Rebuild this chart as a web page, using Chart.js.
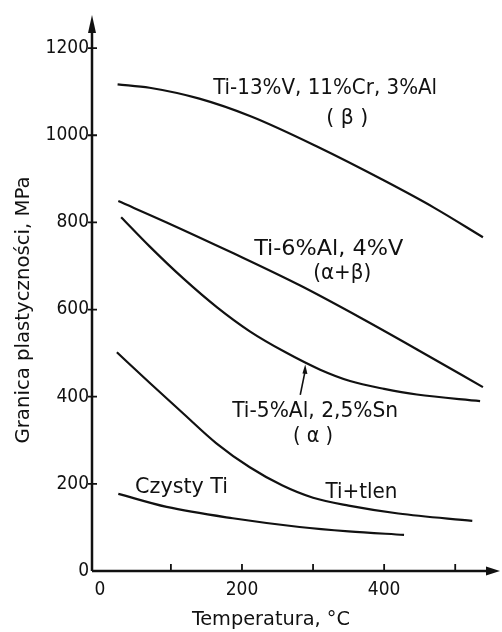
<!DOCTYPE html>
<html>
<head>
<meta charset="utf-8">
<script src="https://cdn.jsdelivr.net/npm/chart.js@4.4.1/dist/chart.umd.min.js"></script>
<style>
  html, body { margin: 0; padding: 0; background: #fff; }
  #wrap { width: 502px; height: 632px; }
</style>
</head>
<body>
<div id="wrap"><canvas id="graphic" width="502" height="632"></canvas></div>
<script>
// values: temperature (°C) / yield strength (MPa)
const betaTemp = [25, 70, 140, 213, 307, 400, 470, 539];
const betaMPa = [1117, 1109, 1084, 1043, 973, 896, 834, 766];

const alphaBetaTemp = [26, 94, 188, 282, 368, 450, 539];
const alphaBetaMPa = [849, 800, 729, 655, 580, 505, 422];

const alphaTemp = [30, 70, 117, 165, 211, 260, 310, 352, 400, 446, 535];
const alphaMPa = [812, 745, 672, 605, 550, 503, 462, 436, 418, 405, 390];

const oxygenTemp = [24, 70, 117, 164, 211, 257, 300, 350, 420, 524];
const oxygenMPa = [502, 432, 362, 293, 238, 196, 168, 150, 132, 115];

const pureTemp = [26, 94, 187, 281, 350, 428];
const pureMPa = [177, 147, 121, 101, 91, 83];

const xTickValues = [0, 100, 200, 300, 400, 500];
const xTickLabels = ['0', '', '200', '', '400', ''];
const yTickValues = [0, 200, 400, 600, 800, 1000, 1200];

const FONT = '"DejaVu Sans Condensed", "Liberation Sans Narrow", "DejaVu Sans", sans-serif';
const INK = '#111';

function toPoints(xs, ys) {
  return xs.map((x, i) => ({ x: x, y: ys[i] }));
}

function curve(xs, ys) {
  return {
    data: toPoints(xs, ys),
    borderColor: INK,
    borderWidth: 2.2,
    pointRadius: 0,
    fill: false,
    cubicInterpolationMode: 'monotone',
  };
}

// annotation texts, positioned in data units (x °C, baseline y MPa, width px)
const notes = [
  { text: 'Ti-13%V, 11%Cr, 3%Al', x: 317, y: 1095, w: 224 },
  { text: '( \u03B2 )', x: 348, y: 1026, w: 42 },
  { text: 'Ti-6%Al, 4%V', x: 322, y: 725, w: 149 },
  { text: '(\u03B1+\u03B2)', x: 341, y: 670, w: 58 },
  { text: 'Ti-5%Al, 2,5%Sn', x: 303, y: 354, w: 166 },
  { text: '( \u03B1 )', x: 300, y: 296, w: 40 },
  { text: 'Ti+tlen', x: 368, y: 167, w: 72 },
  { text: 'Czysty Ti', x: 115, y: 179, w: 93 },
];

function fitText(ctx, str, cx, baseY, width, size) {
  ctx.font = size + 'px ' + FONT;
  const m = ctx.measureText(str).width;
  ctx.save();
  ctx.translate(cx, baseY);
  ctx.scale(width / m, 1);
  ctx.textAlign = 'center';
  ctx.textBaseline = 'alphabetic';
  ctx.fillText(str, 0, 0);
  ctx.restore();
}

const drawing = {
  id: 'drawing',
  afterDraw(chart) {
    const ctx = chart.ctx;
    const xs = chart.scales.x;
    const ys = chart.scales.y;
    const left = chart.chartArea.left;
    const bottom = chart.chartArea.bottom;
    const top = chart.chartArea.top;
    const right = chart.chartArea.right;

    ctx.save();
    ctx.strokeStyle = INK;
    ctx.fillStyle = INK;
    ctx.lineWidth = 2.5;

    // axes
    ctx.beginPath();
    ctx.moveTo(left, bottom);
    ctx.lineTo(left, top + 14);
    ctx.moveTo(left, bottom);
    ctx.lineTo(right - 10, bottom);
    ctx.stroke();

    // arrow heads
    ctx.beginPath();
    ctx.moveTo(left, top);
    ctx.lineTo(left - 4, top + 18);
    ctx.lineTo(left + 4, top + 18);
    ctx.closePath();
    ctx.fill();
    ctx.beginPath();
    ctx.moveTo(right, bottom);
    ctx.lineTo(right - 14, bottom - 4.5);
    ctx.lineTo(right - 14, bottom + 4.5);
    ctx.closePath();
    ctx.fill();

    // tick marks
    ctx.lineWidth = 1.8;
    ctx.beginPath();
    yTickValues.slice(1).forEach(v => {
      const p = ys.getPixelForValue(v);
      ctx.moveTo(left - 4, p);
      ctx.lineTo(left + 5, p);
    });
    xTickValues.slice(1).forEach(v => {
      const p = xs.getPixelForValue(v);
      ctx.moveTo(p, bottom);
      ctx.lineTo(p, bottom - 7);
    });
    ctx.stroke();

    // pointer from the alpha label to its curve
    const ax0 = xs.getPixelForValue(282), ay0 = ys.getPixelForValue(404);
    const ax1 = xs.getPixelForValue(289), ay1 = ys.getPixelForValue(474);
    ctx.lineWidth = 1.6;
    ctx.beginPath();
    ctx.moveTo(ax0, ay0);
    ctx.lineTo(ax1, ay1 + 6);
    ctx.stroke();
    ctx.beginPath();
    ctx.moveTo(ax1, ay1);
    ctx.lineTo(ax1 - 2.8, ay1 + 9);
    ctx.lineTo(ax1 + 2.2, ay1 + 9.5);
    ctx.closePath();
    ctx.fill();

    // curve labels
    notes.forEach(n => {
      fitText(ctx, n.text, xs.getPixelForValue(n.x), ys.getPixelForValue(n.y), n.w, 21);
    });

    // axis titles
    fitText(ctx, 'Temperatura, \u00B0C', 271, 625, 158, 20);
    ctx.save();
    ctx.translate(29, 310);
    ctx.rotate(-Math.PI / 2);
    fitText(ctx, 'Granica plastyczno\u015Bci, MPa', 0, 0, 267, 20);
    ctx.restore();

    ctx.restore();
  },
};

const graphic = document.getElementById('graphic');

const graphicControler = new Chart(graphic, {
  type: 'line',
  data: {
    datasets: [
      curve(betaTemp, betaMPa),
      curve(alphaBetaTemp, alphaBetaMPa),
      curve(alphaTemp, alphaMPa),
      curve(oxygenTemp, oxygenMPa),
      curve(pureTemp, pureMPa),
    ],
  },
  plugins: [drawing],
  options: {
    responsive: false,
    animation: false,
    devicePixelRatio: 1,
    layout: { padding: { top: 15, right: 2, left: 0, bottom: 0 } },
    plugins: {
      legend: { display: false },
      tooltip: { enabled: false },
    },
    scales: {
      x: {
        type: 'linear',
        min: -11,
        max: 563,
        grid: { display: false, drawTicks: false },
        border: { display: false },
        afterBuildTicks(scale) {
          scale.ticks = xTickValues.map(v => ({ value: v }));
        },
        afterFit(scale) {
          scale.height = 61;
        },
        ticks: {
          padding: 8,
          maxRotation: 0,
          autoSkip: false,
          color: INK,
          font: { family: FONT, size: 19 },
          callback(value) {
            const i = xTickValues.indexOf(value);
            return i >= 0 ? xTickLabels[i] : '';
          },
        },
      },
      y: {
        type: 'linear',
        min: 0,
        max: 1276,
        grid: { display: false, drawTicks: false },
        border: { display: false },
        afterBuildTicks(scale) {
          scale.ticks = yTickValues.map(v => ({ value: v }));
        },
        afterFit(scale) {
          scale.width = 92;
        },
        ticks: {
          padding: 3,
          color: INK,
          font: { family: FONT, size: 19 },
          callback(value) {
            return String(value);
          },
        },
      },
    },
  },
});
</script>
</body>
</html>
